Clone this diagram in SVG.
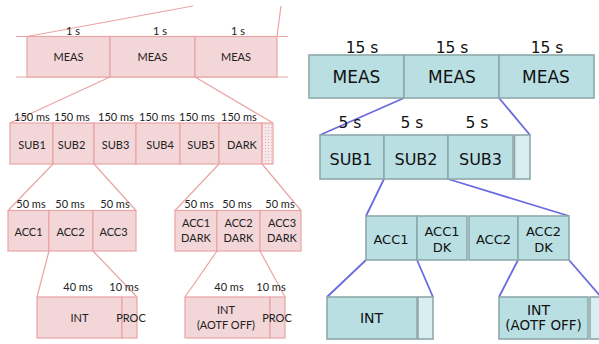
<svg xmlns="http://www.w3.org/2000/svg" width="599" height="344" viewBox="0 0 599 344">
<defs>
<pattern id="dots" width="3" height="3" patternUnits="userSpaceOnUse">
<rect width="3" height="3" fill="#f8eaea"/>
<circle cx="1.5" cy="1.5" r="0.7" fill="#e8b8ba"/>
</pattern>
</defs>
<style>
.pk{fill:#f3d6d8;stroke:#eaa3a6;stroke-width:1.2}
.pkl{stroke:#eba3a5;stroke-width:1.2;fill:none}
.tl{fill:#b9dfe3;stroke:#8ea8aa;stroke-width:1.6}
.tll{fill:#d9eef0;stroke:#8ea8aa;stroke-width:1.6}
.bl{stroke:#6b6be0;stroke-width:1.8;fill:none}
.lt{font-family:Lato,"Liberation Sans",sans-serif;font-size:11px;fill:#222;text-anchor:middle}
.rt{font-family:"DejaVu Sans",Verdana,sans-serif;fill:#111;text-anchor:middle}
.r17{font-size:17px}
.r16{font-size:16px}
.r15{font-size:15.5px}
.r13{font-size:13px}
.r14{font-size:14px}
</style>
<rect width="599" height="344" fill="#ffffff"/>

<g id="connectors">
<line class="pkl" x1="16" y1="36.5" x2="288" y2="36.5"/>
<line class="pkl" x1="16" y1="77" x2="288" y2="77"/>
<line class="pkl" x1="27" y1="36.5" x2="193" y2="6"/>
<line class="pkl" x1="277" y1="36.5" x2="281" y2="6"/>
<line class="pkl" x1="110" y1="77" x2="10" y2="123"/>
<line class="pkl" x1="195" y1="77" x2="273" y2="123"/>
<line class="pkl" x1="53" y1="164" x2="8" y2="210.5"/>
<line class="pkl" x1="94" y1="164" x2="136" y2="210.5"/>
<line class="pkl" x1="219" y1="164" x2="175" y2="210.5"/>
<line class="pkl" x1="262" y1="164" x2="301" y2="210.5"/>
<line class="pkl" x1="49" y1="251" x2="37" y2="297"/>
<line class="pkl" x1="93" y1="251" x2="137" y2="297"/>
<line class="pkl" x1="217" y1="251" x2="185" y2="297"/>
<line class="pkl" x1="260" y1="251" x2="285" y2="297"/>
<line class="bl" x1="404" y1="98" x2="320" y2="135"/>
<line class="bl" x1="499" y1="98" x2="530" y2="135"/>
<line class="bl" x1="384" y1="179" x2="366" y2="216"/>
<line class="bl" x1="448" y1="179" x2="569" y2="216"/>
<line class="bl" x1="366" y1="260" x2="327" y2="297"/>
<line class="bl" x1="417" y1="260" x2="433" y2="297"/>
<line class="bl" x1="518" y1="260" x2="499" y2="297"/>
<line class="bl" x1="569" y1="260" x2="601" y2="297"/>
</g>

<g id="l-meas1"><rect class="pk" x="27" y="36.5" width="83" height="40.5"/><text class="lt" x="73" y="34.5">1 s</text><text class="lt" x="68.5" y="61">MEAS</text></g>
<g id="l-meas2"><rect class="pk" x="110" y="36.5" width="85" height="40.5"/><text class="lt" x="160" y="34.5">1 s</text><text class="lt" x="152.5" y="61">MEAS</text></g>
<g id="l-meas3"><rect class="pk" x="195" y="36.5" width="82" height="40.5"/><text class="lt" x="238" y="34.5">1 s</text><text class="lt" x="236" y="61">MEAS</text></g>

<g id="l-sub1"><rect class="pk" x="10" y="123" width="43" height="41"/><text class="lt" x="32" y="121">150 ms</text><text class="lt" x="32" y="149">SUB1</text></g>
<g id="l-sub2"><rect class="pk" x="53" y="123" width="41" height="41"/><text class="lt" x="72" y="121">150 ms</text><text class="lt" x="71.5" y="149">SUB2</text></g>
<g id="l-sub3"><rect class="pk" x="94" y="123" width="42" height="41"/><text class="lt" x="116" y="121">150 ms</text><text class="lt" x="115.5" y="149">SUB3</text></g>
<g id="l-sub4"><rect class="pk" x="136" y="123" width="44" height="41"/><text class="lt" x="157" y="121">150 ms</text><text class="lt" x="160" y="149">SUB4</text></g>
<g id="l-sub5"><rect class="pk" x="180" y="123" width="39" height="41"/><text class="lt" x="197" y="121">150 ms</text><text class="lt" x="201" y="149">SUB5</text></g>
<g id="l-dark"><rect class="pk" x="219" y="123" width="43" height="41"/><text class="lt" x="239" y="121">150 ms</text><text class="lt" x="242" y="149">DARK</text></g>
<g id="l-gap"><rect x="262" y="123" width="11" height="41" fill="url(#dots)" stroke="#eaa3a6" stroke-width="1.2"/></g>

<g id="l-acc1"><rect class="pk" x="8" y="210.5" width="41" height="40.5"/><text class="lt" x="31" y="208">50 ms</text><text class="lt" x="28.5" y="236">ACC1</text></g>
<g id="l-acc2"><rect class="pk" x="49" y="210.5" width="44" height="40.5"/><text class="lt" x="70" y="208">50 ms</text><text class="lt" x="70.5" y="236">ACC2</text></g>
<g id="l-acc3"><rect class="pk" x="93" y="210.5" width="43" height="40.5"/><text class="lt" x="115" y="208">50 ms</text><text class="lt" x="113.5" y="236">ACC3</text></g>
<g id="l-acc1d"><rect class="pk" x="175" y="210.5" width="42" height="40.5"/><text class="lt" x="199" y="208">50 ms</text><text class="lt" x="196" y="227">ACC1</text><text class="lt" x="196" y="242">DARK</text></g>
<g id="l-acc2d"><rect class="pk" x="217" y="210.5" width="43" height="40.5"/><text class="lt" x="237" y="208">50 ms</text><text class="lt" x="238.5" y="227">ACC2</text><text class="lt" x="238.5" y="242">DARK</text></g>
<g id="l-acc3d"><rect class="pk" x="260" y="210.5" width="41" height="40.5"/><text class="lt" x="280" y="208">50 ms</text><text class="lt" x="282" y="227">ACC3</text><text class="lt" x="282" y="242">DARK</text></g>

<g id="l-int"><rect class="pk" x="37" y="297" width="85" height="41"/><text class="lt" x="78" y="291">40 ms</text><text class="lt" x="79.5" y="322">INT</text></g>
<g id="l-proc"><rect class="pk" x="122" y="297" width="15" height="41"/><text class="lt" x="124" y="291">10 ms</text><text class="lt" x="131" y="322">PROC</text></g>
<g id="l-int2"><rect class="pk" x="185" y="297" width="85" height="41"/><text class="lt" x="229" y="291">40 ms</text><text class="lt" x="226" y="314">INT</text><text class="lt" x="226" y="329">(AOTF OFF)</text></g>
<g id="l-proc2"><rect class="pk" x="270" y="297" width="15" height="41"/><text class="lt" x="271" y="291">10 ms</text><text class="lt" x="277" y="322">PROC</text></g>

<g id="r-meas1"><rect class="tl" x="309" y="55" width="95" height="43"/><text class="rt r15" x="362" y="53">15 s</text><text class="rt r17" x="356.5" y="83">MEAS</text></g>
<g id="r-meas2"><rect class="tl" x="404" y="55" width="95" height="43"/><text class="rt r15" x="452" y="53">15 s</text><text class="rt r17" x="452" y="83">MEAS</text></g>
<g id="r-meas3"><rect class="tl" x="499" y="55" width="95" height="43"/><text class="rt r15" x="547" y="53">15 s</text><text class="rt r17" x="546" y="83">MEAS</text></g>

<g id="r-sub1"><rect class="tl" x="320" y="135" width="64" height="44"/><text class="rt r15" x="350" y="128">5 s</text><text class="rt r16" x="351" y="165">SUB1</text></g>
<g id="r-sub2"><rect class="tl" x="384" y="135" width="64" height="44"/><text class="rt r15" x="412" y="128">5 s</text><text class="rt r16" x="416" y="165">SUB2</text></g>
<g id="r-sub3"><rect class="tl" x="448" y="135" width="65" height="44"/><text class="rt r15" x="477" y="128">5 s</text><text class="rt r16" x="480.5" y="165">SUB3</text></g>
<g id="r-subx"><rect class="tll" x="514.5" y="135" width="15.5" height="44"/></g>

<g id="r-acc1"><rect class="tl" x="366" y="216" width="51" height="44"/><text class="rt r13" x="391" y="244">ACC1</text></g>
<g id="r-acc1dk"><rect class="tl" x="417" y="216" width="50" height="44"/><text class="rt r13" x="442" y="236">ACC1</text><text class="rt r13" x="442" y="252">DK</text></g>
<g id="r-acc2"><rect class="tl" x="469" y="216" width="49" height="44"/><text class="rt r13" x="493.5" y="244">ACC2</text></g>
<g id="r-acc2dk"><rect class="tl" x="518" y="216" width="51" height="44"/><text class="rt r13" x="543.5" y="236">ACC2</text><text class="rt r13" x="543.5" y="252">DK</text></g>

<g id="r-int"><rect class="tl" x="327" y="297" width="90" height="42"/><text class="rt r14" x="371.5" y="323">INT</text></g>
<g id="r-intx"><rect class="tll" x="418" y="297" width="15" height="42"/></g>
<g id="r-int2"><rect class="tl" x="499" y="297" width="89" height="42"/><text class="rt r14" x="538.5" y="315">INT</text><text class="rt" style="font-size:13.5px" x="543.5" y="330">(AOTF OFF)</text></g>
<g id="r-int2x"><rect class="tll" x="590" y="297" width="15" height="42"/></g>
</svg>
